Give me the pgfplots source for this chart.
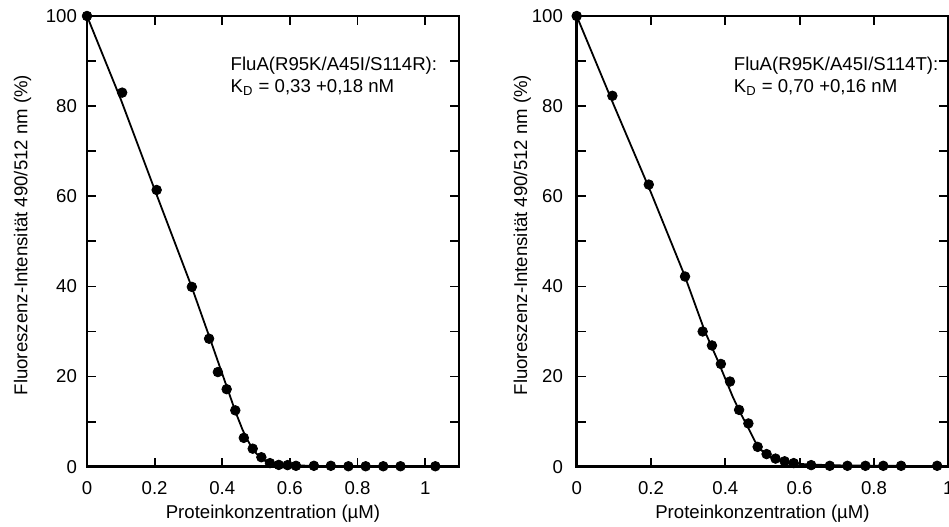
\documentclass[border=0pt]{standalone}
\usepackage{fontspec}
\setmainfont{Liberation Sans}
\usepackage{pgfplots}
\pgfplotsset{compat=1.18}
\begin{document}
\begin{tikzpicture}[font=\fontsize{9.3pt}{11pt}\selectfont]
\useasboundingbox (0,0) rectangle (474.5pt,263pt);
\pgfplotsset{
  myax/.style={
    scale only axis, anchor=south west, height=225.35pt,
    xmin=0, ymin=0, ymax=100,
    xtick={0,0.2,0.4,0.6,0.8,1}, xticklabels={0,0.2,0.4,0.6,0.8,1},
    ytick={0,20,40,60,80,100}, yticklabels={0,20,40,60,80,100},
    minor ytick={10,30,50,70,90},
    tick pos=both, tick align=inside,
    major tick length=4.5pt, minor tick length=4.5pt,
    every tick/.append style={black, line width=0.9pt},
    axis line style={line width=1.4pt},
    clip=false,
    /pgf/number format/assume math mode=true,
    xticklabel style={anchor=base, yshift=-13.65pt},
    every axis x label/.style={at={(axis description cs:0.5,-0.1145)}, anchor=base},
    xlabel={Proteinkonzentration (µM)},
    ylabel={Fluoreszenz-Intensität 490/512 nm (\%)},
  },
  pts/.style={only marks, mark=*, mark size=2.4pt, black},
  fit/.style={no marks, black, line width=0.9pt},
}
% ---------------- left panel ----------------
\begin{axis}[myax, at={(43.5pt,29.65pt)}, width=186pt, xmax=1.1,
  yticklabel style={anchor=east, inner sep=0pt, xshift=-4.85pt},
  every axis y label/.style={at={(axis description cs:-0.1605,0.514)}, rotate=90, anchor=base}]
\addplot[fit] coordinates {
 (0,100) (0.1,81.5) (0.2,61.5) (0.31,39.8) (0.36,29.2) (0.40,20.6)
 (0.44,12.0) (0.46,8.2) (0.47,6.6) (0.48,5.2) (0.49,4.0) (0.50,3.0)
 (0.51,2.2) (0.52,1.6) (0.53,1.15) (0.54,0.85) (0.55,0.65) (0.56,0.5)
 (0.58,0.38) (0.60,0.3) (0.70,0.15) (0.85,0.1) (1.1,0.05)};
\addplot[pts] coordinates {
 (0,100) (0.104,83.0) (0.206,61.4) (0.310,39.9) (0.361,28.4) (0.387,21.0)
 (0.413,17.2) (0.4385,12.5) (0.4637,6.4) (0.490,4.0) (0.5156,2.1)
 (0.541,0.8) (0.567,0.4) (0.593,0.35) (0.618,0.2) (0.671,0.2) (0.721,0.2)
 (0.773,0.1) (0.824,0.1) (0.876,0.1) (0.927,0.1) (1.030,0.1)};
\node[anchor=base west] at (axis cs:0.404,88.0) {FluA(R95K/A45I/S114R):};
\node[anchor=base west] at (axis cs:0.404,83.0) {K\textsubscript{D} = 0,33 +0,18 nM};
\end{axis}
% ---------------- right panel ----------------
\begin{axis}[myax, at={(288.35pt,29.65pt)}, width=185.8pt, xmax=1.0,
  yticklabel style={anchor=east, inner sep=0pt, xshift=-6.7pt},
  every axis y label/.style={at={(axis description cs:-0.1337,0.514)}, rotate=90, anchor=base}]
\addplot[fit] coordinates {
 (0,100) (0.1,80.2) (0.2,60.8) (0.29,42.5) (0.345,30.0) (0.38,23.5)
 (0.42,15.5) (0.44,12.0) (0.46,8.9) (0.48,5.6) (0.50,3.4) (0.52,2.2)
 (0.54,1.5) (0.56,1.05) (0.58,0.8) (0.62,0.5) (0.70,0.3) (0.80,0.2)
 (1.0,0.13)};
\addplot[pts] coordinates {
 (0,100) (0.096,82.3) (0.194,62.6) (0.2915,42.2) (0.339,30.0) (0.364,26.9)
 (0.388,22.8) (0.4125,18.9) (0.437,12.6) (0.462,9.6) (0.487,4.4) (0.511,2.8)
 (0.535,1.8) (0.5595,1.2) (0.584,0.8) (0.631,0.35) (0.681,0.2) (0.7285,0.2)
 (0.777,0.2) (0.825,0.2) (0.873,0.2) (0.970,0.2)};
\node[anchor=base west] at (axis cs:0.404,88.0) {FluA(R95K/A45I/S114T):};
\node[anchor=base west] at (axis cs:0.404,83.0) {K\textsubscript{D} = 0,70 +0,16 nM};
\end{axis}
\end{tikzpicture}
\end{document}
